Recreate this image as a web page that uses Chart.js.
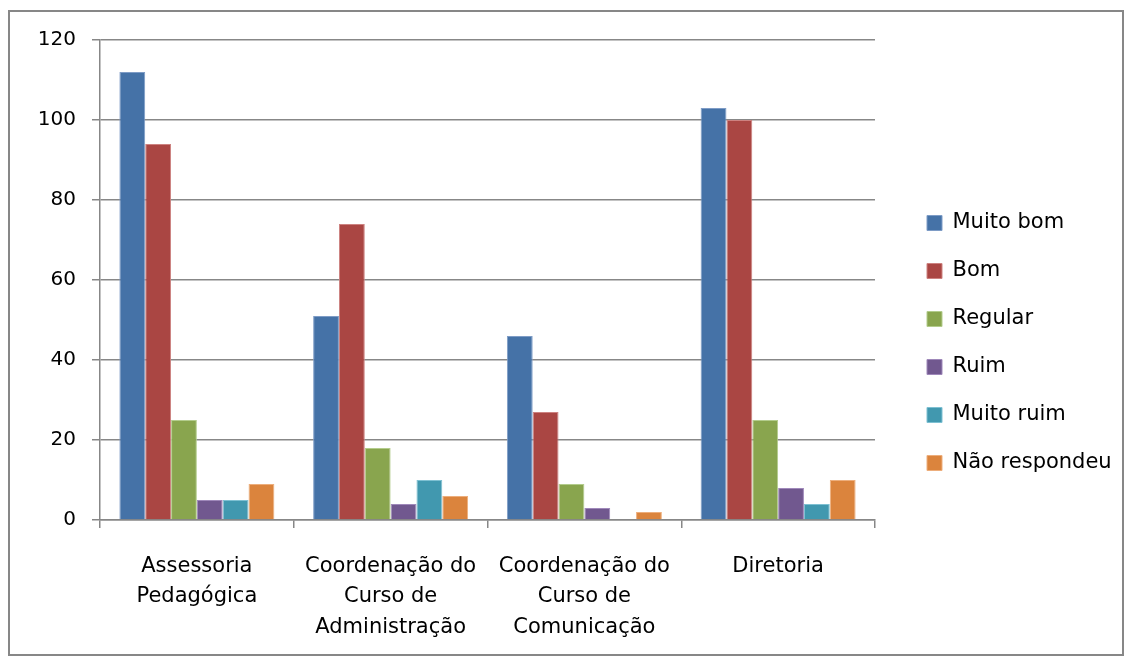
<!DOCTYPE html>
<html>
<head>
<meta charset="utf-8">
<script src="https://cdn.jsdelivr.net/npm/chart.js@4/dist/chart.umd.min.js"></script>
<style>
  html, body { margin: 0; padding: 0; background: #ffffff; }
  #frame { position: absolute; left: 8px; top: 10px; width: 1116px; height: 646px; box-sizing: border-box; border: 2px solid #878787; background: #fff; }
  #wrap { position: absolute; left: 0; top: 0; width: 1112px; height: 642px; }
</style>
</head>
<body>
<div id="frame"><div id="wrap"><canvas id="c" width="1112" height="642"></canvas></div></div>
<script>
const categories = [
  ["Assessoria", "Pedagógica"],
  ["Coordenação do", "Curso de", "Administração"],
  ["Coordenação do", "Curso de", "Comunicação"],
  ["Diretoria"]
];
const seriesNames = ["Muito bom", "Bom", "Regular", "Ruim", "Muito ruim", "Não respondeu"];
const muitoBom     = [112, 51, 46, 103];
const bom          = [94, 74, 27, 100];
const regular      = [25, 18, 9, 25];
const ruim         = [5, 4, 3, 8];
const muitoRuim    = [5, 10, 0, 4];
const naoRespondeu = [9, 6, 2, 10];
const yTicks = [0, 20, 40, 60, 80, 100, 120];

const fills   = ["#4572A7", "#AA4643", "#89A54E", "#71588F", "#4198AF", "#DB843D"];
const borders = ["#7E9CC6", "#CD8280", "#B3CC8C", "#9F88BA", "#7EC0D2", "#EDAE7C"];
const values = [muitoBom, bom, regular, ruim, muitoRuim, naoRespondeu];

const FONT = "'DejaVu Sans', sans-serif";
const LEGEND_SIZE = 21;
const LEGEND_PAD = 27;
const BOX = 15;

// measure the widest legend text to place the plot area's right edge
const mctx = document.createElement('canvas').getContext('2d');
mctx.font = LEGEND_SIZE + "px 'DejaVu Sans', sans-serif";
const maxText = Math.max(...seriesNames.map(s => mctx.measureText(s).width));
const legendW = LEGEND_PAD + BOX + LEGEND_SIZE / 2 + maxText;
const PLOT_RIGHT = 875;
const padRight = 1112 - PLOT_RIGHT - legendW;

const legendShift = {
  id: 'legendShift',
  afterLayout(chart) {
    const lg = chart.legend;
    if (!lg) return;
    const dx = 917 - (lg.left + LEGEND_PAD), dy = -4;
    lg.left += dx; lg.right += dx;
    lg.top += dy; lg.bottom += dy;
  }
};

new Chart(document.getElementById('c'), {
  type: 'bar',
  data: {
    labels: categories,
    datasets: seriesNames.map((name, i) => ({
      label: name,
      data: values[i],
      backgroundColor: fills[i],
      borderColor: borders[i],
      borderWidth: 1,
      borderSkipped: 'bottom',
      categoryPercentage: 0.8,
      barPercentage: 1.0
    }))
  },
  plugins: [legendShift],
  options: {
    responsive: false,
    animation: false,
    devicePixelRatio: 1,
    layout: { padding: { top: 28, right: padRight, bottom: 0, left: 0 } },
    plugins: {
      tooltip: { enabled: false },
      legend: {
        position: 'right',
        labels: {
          boxWidth: BOX,
          boxHeight: BOX,
          padding: LEGEND_PAD,
          color: '#000',
          font: { family: FONT, size: LEGEND_SIZE, lineHeight: 1.2 }
        }
      }
    },
    scales: {
      x: {
        afterFit(scale) { scale.height = 134; },
        grid: {
          display: true,
          drawOnChartArea: false,
          drawTicks: true,
          tickLength: 8,
          color: '#878787',
          lineWidth: 1.5
        },
        border: { display: true, color: '#878787', width: 1.5 },
        ticks: {
          color: '#000',
          padding: 23,
          maxRotation: 0,
          autoSkip: false,
          font: { family: FONT, size: 21, lineHeight: 1.45 }
        }
      },
      y: {
        min: 0,
        max: 120,
        afterFit(scale) { scale.width = 90; },
        afterBuildTicks(scale) { scale.ticks = yTicks.map(v => ({ value: v })); },
        grid: {
          color: '#878787',
          lineWidth: 1.5,
          drawTicks: true,
          tickLength: 8
        },
        border: { display: true, color: '#878787', width: 1.5 },
        ticks: {
          color: '#000',
          padding: 16,
          font: { family: FONT, size: 20 }
        }
      }
    }
  }
});
</script>
</body>
</html>
